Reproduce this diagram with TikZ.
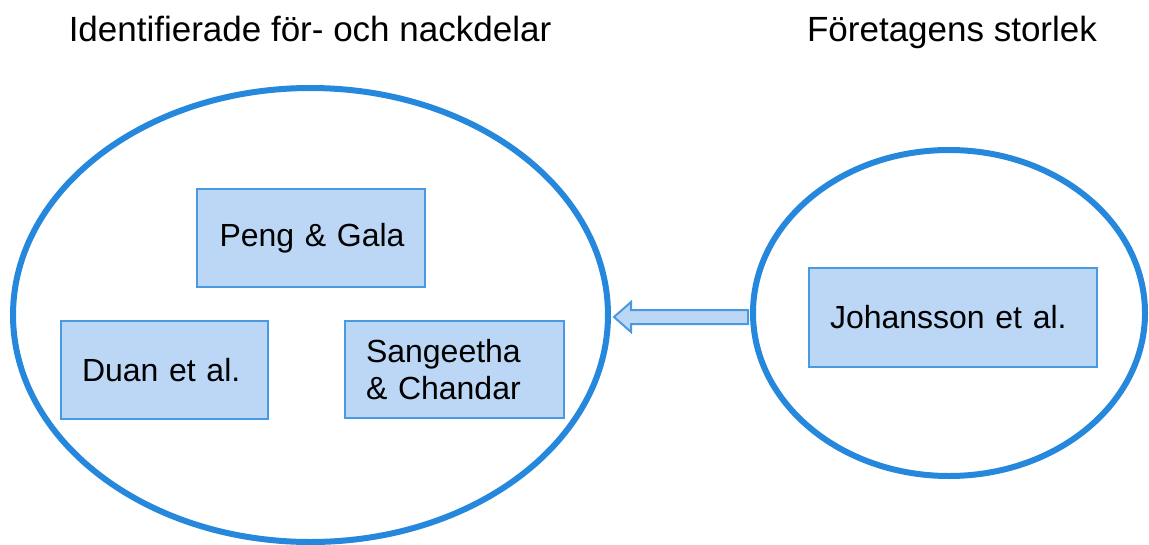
\documentclass[tikz,border=0pt]{standalone}
\usepackage{fontspec}
\setmainfont{Liberation Sans}
\usetikzlibrary{shapes.geometric,calc}
\definecolor{ringblue}{RGB}{38,136,220}
\definecolor{boxfill}{RGB}{187,215,245}
\definecolor{boxline}{RGB}{72,152,226}
\begin{document}
\begin{tikzpicture}[x=1pt,y=-1pt,
  ring/.style={draw=ringblue,line width=6pt,ellipse,inner sep=0pt,outer sep=0pt},
  refbox/.style={draw=boxline,fill=boxfill,line width=2pt,inner ysep=0pt,inner xsep=21pt,outer sep=0pt,
    align=left,font=\fontsize{32}{37}\selectfont,text=black},
  title/.style={font=\fontsize{35}{42}\selectfont,anchor=base,inner sep=0pt}]
\useasboundingbox (0,0) rectangle (1149,544);
\node[ring,minimum width=595,minimum height=454] (left) at (310.5,315) {};
\node[ring,minimum width=392,minimum height=326] (right) at (949,313) {};
\node[title] (t1) at (310,41) {Identifierade för- och nackdelar};
\node[title] (t2) at (952,41) {Företagens storlek};
\node[refbox,text width=186pt,minimum height=98] (peng) at (311,238) {\mbox{\hspace*{1.5pt}Peng \& Gala}};
\node[refbox,text width=165pt,minimum height=98] (duan) at (164.5,370) {\mbox{Duan et al.}};
\node[refbox,text width=177pt,minimum height=97] (sang) at (454.5,369.5) {Sangeetha\\\& Chandar};
\node[refbox,text width=246pt,minimum height=99] (joh) at (953,317.5) {\mbox{Johansson et al.}};
\coordinate (tip) at ($(left.east)+(6,2)$);
\coordinate (tail) at ($(right.west)+(-5,4)$);
\draw[draw=boxline,fill=boxfill,line width=2pt,line join=miter]
  (tip) -- ($(tip)+(17,-15)$) -- ($(tip)+(17,-7)$)
  -- (tail |- {$(tip)+(0,-7)$}) -- (tail |- {$(tip)+(0,7)$})
  -- ($(tip)+(17,7)$) -- ($(tip)+(17,15)$) -- cycle;
\end{tikzpicture}
\end{document}
